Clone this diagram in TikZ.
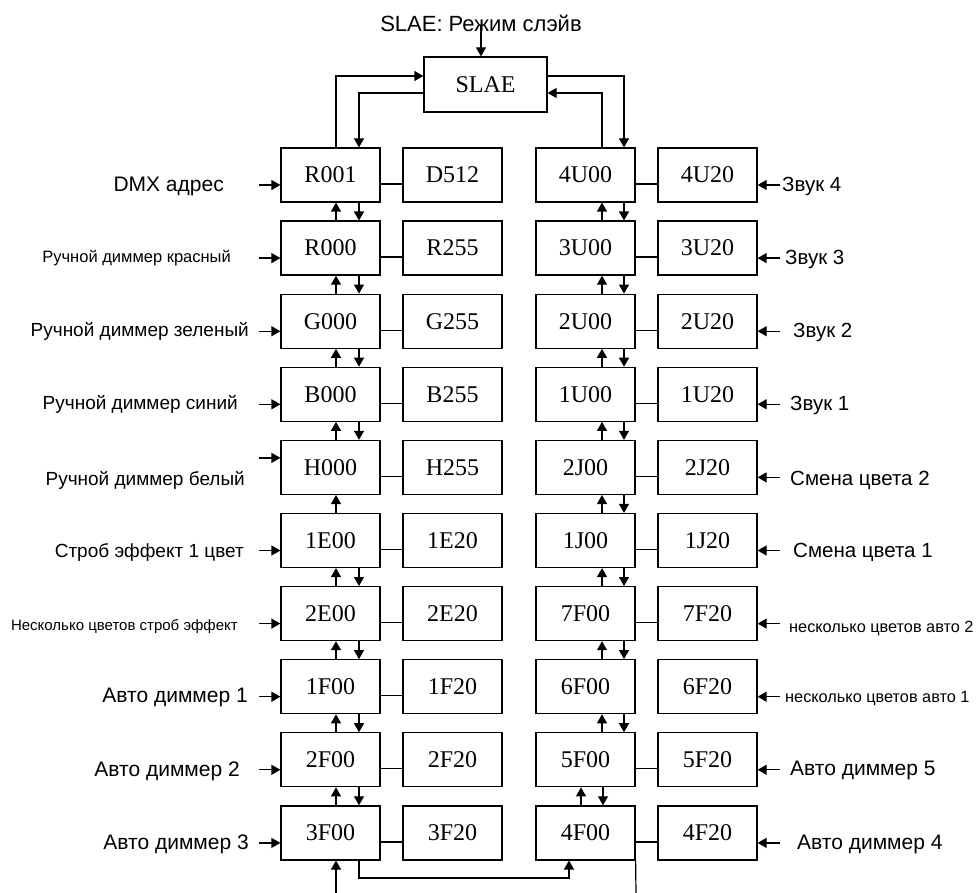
\documentclass[tikz,border=0pt]{standalone}
\usepackage{fontspec}
\setmainfont{Liberation Sans}
\newfontfamily\boxfont{Liberation Serif}
\usetikzlibrary{arrows.meta}
\tikzset{
  cell/.style={rectangle, draw, line width=1.2pt, minimum width=99pt,
               minimum height=54pt, inner sep=0pt,
               font=\boxfont\fontsize{24}{24}\selectfont},
  arr/.style={-{Triangle[length=9pt,width=10pt]}, line width=1.2pt},
  link/.style={line width=1.2pt},
  lbl/.style={inner sep=0pt, font=\fontsize{#1}{#1}\selectfont},
  lbl/.default=19,
}

\begin{document}
\begin{tikzpicture}[x=1pt,y=-1pt]
  \useasboundingbox (0,0) rectangle (978,893);
  \coordinate (lu) at (336,0); \coordinate (ld) at (359,0);
  \coordinate (ru) at (602,0); \coordinate (rd) at (624,0);
  \coordinate (lin) at (259,0); \coordinate (rin) at (780,0);

  \node[cell, minimum width=123pt, minimum height=55pt] (SLAE) at (485.5,84.5) {SLAE};
  \node[lbl=22] (title) at (481,23) {SLAE: Режим слэйв};
  \draw[arr] ([yshift=6pt]title.south) -- (title.south |- SLAE.north);

  % rows of boxes
  \foreach \a/\b/\c/\d/\s/\k [count=\i] in {
      R001/D512/4U00/4U20/-10/1, R000/R255/3U00/3U20/-10/1,
      G000/G255/2U00/2U20/-10/1, B000/B255/1U00/1U20/-10/1,
      H000/H255/2J00/2J20/9.5/1, 1E00/1E20/1J00/1J20/-10/1,
      2E00/2E20/7F00/7F20/-10/1, 1F00/1F20/6F00/6F20/-10/0,
      2F00/2F20/5F00/5F20/-10/1, 3F00/3F20/4F00/4F20/-10/1}{
    \node[cell] (\a) at (330.5,101.9+73.1*\i) {\a};
    \node[cell] (\b) at (452.5,101.9+73.1*\i) {\b};
    \node[cell] (\c) at (585.5,101.9+73.1*\i) {\c};
    \node[cell] (\d) at (707.5,101.9+73.1*\i) {\d};
    \draw[link] ([yshift=-9pt]\a.east) -- ([yshift=-9pt]\b.west);
    \ifnum\k=1 \draw[link] ([yshift=-9pt]\c.east) -- ([yshift=-9pt]\d.west); \fi
    \coordinate (inL\i) at ([yshift=\s pt]\a.west);
    \coordinate (inR\i) at ([yshift=-10pt]\d.east);
    \draw[arr] (inL\i -| lin) -- (inL\i);
    \draw[arr] (inR\i -| rin) -- (inR\i);
  }

  % up / down between rows
  \foreach \u/\l in {R001/R000, R000/G000, G000/B000, B000/H000,
                     1E00/2E00, 2E00/1F00, 1F00/2F00, 2F00/3F00}{
    \draw[arr] (\l.north -| lu) -- (\u.south -| lu);
    \draw[arr] (\u.south -| ld) -- (\l.north -| ld);
  }
  \draw[arr] (1E00.north -| lu) -- (H000.south -| lu);
  \foreach \u/\l in {4U00/3U00, 3U00/2U00, 2U00/1U00, 1U00/2J00,
                     2J00/1J00, 1J00/7F00, 7F00/6F00, 6F00/5F00}{
    \draw[arr] (\l.north -| ru) -- (\u.south -| ru);
    \draw[arr] (\u.south -| rd) -- (\l.north -| rd);
  }
  \coordinate (fu) at (581,0); \coordinate (fd) at (603,0);
  \draw[arr] (4F00.north -| fu) -- (5F00.south -| fu);
  \draw[arr] (5F00.south -| fd) -- (4F00.north -| fd);

  % loops through SLAE
  \draw[arr] (R001.north -| lu) |- ([yshift=8.5pt]SLAE.west);
  \draw[arr] ([yshift=-8.5pt]SLAE.west) -| (R001.north -| ld);
  \draw[arr] ([yshift=8.5pt]SLAE.east) -| (4U00.north -| rd);
  \draw[arr] (4U00.north -| ru) |- ([yshift=-8.5pt]SLAE.east);

  % bottom
  \coordinate (fx) at (569,878);
  \coordinate (inB) at (336,893);
  \coordinate (outB) at (636,893);
  \draw[arr] (3F00.south -| ld) |- (fx) -- (fx |- 4F00.south);
  \draw[arr] (inB) -- (3F00.south -| inB);
  \draw[link] (4F00.south east) -- (outB);

  % left labels
  \node[lbl=21, anchor=east] (tR001) at (224,186) {DMX адрес};
  \node[lbl=16.5, anchor=east] (tR000) at (231,258) {Ручной диммер красный};
  \node[lbl=19, anchor=east] (tG000) at (249,331) {Ручной диммер зеленый};
  \node[lbl=19, anchor=east] (tB000) at (238,404) {Ручной диммер синий};
  \node[lbl=19, anchor=east] (tH000) at (245,480) {Ручной диммер белый};
  \node[lbl=19, anchor=east] (t1E00) at (244,553) {Строб эффект 1 цвет};
  \node[lbl=15, anchor=east] (t2E00) at (238,627) {Несколько цветов строб эффект};
  \node[lbl=21, anchor=east] (t1F00) at (248,697) {Авто диммер 1};
  \node[lbl=21, anchor=east] (t2F00) at (240,771) {Авто диммер 2};
  \node[lbl=21, anchor=east] (t3F00) at (249,844) {Авто диммер 3};

  % right labels
  \node[lbl=20.5, anchor=west] (t4U20) at (782,186) {Звук 4};
  \node[lbl=20.5, anchor=west] (t3U20) at (785,259) {Звук 3};
  \node[lbl=20.5, anchor=west] (t2U20) at (793,332) {Звук 2};
  \node[lbl=20.5, anchor=west] (t1U20) at (790,405) {Звук 1};
  \node[lbl=20.5, anchor=west] (t2J20) at (790,480) {Смена цвета 2};
  \node[lbl=20.5, anchor=west] (t1J20) at (793,552) {Смена цвета 1};
  \node[lbl=16.3, anchor=west] (t7F20) at (789,628) {несколько цветов авто 2};
  \node[lbl=16.3, anchor=west] (t6F20) at (785,699) {несколько цветов авто 1};
  \node[lbl=21, anchor=west] (t5F20) at (790,770) {Авто диммер 5};
  \node[lbl=21, anchor=west] (t4F20) at (797,844) {Авто диммер 4};
\end{tikzpicture}
\end{document}
